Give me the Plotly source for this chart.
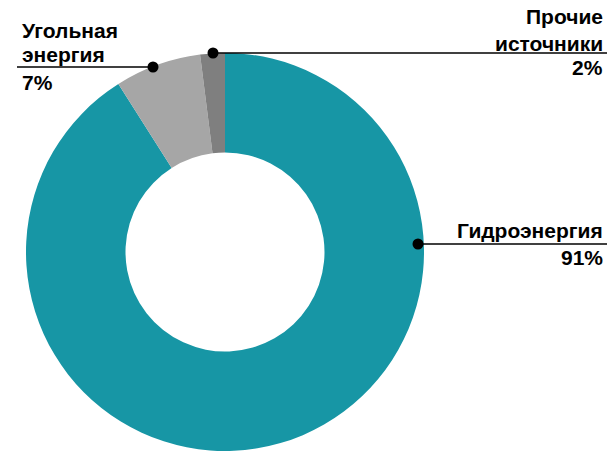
import plotly.graph_objects as go

labels = ["Гидроэнергия", "Угольная энергия", "Прочие источники"]
values = [91, 7, 2]
colors = ["#1796A5", "#A6A6A6", "#7F7F7F"]

W, H = 607, 451
L, R, T, B = 26, 183, 53, 0
PW, PH = W - L - R, H - T - B
FS = 21

def px(x):
    return (x - L) / PW

def py(y):
    return (H - y) / PH

fig = go.Figure(go.Pie(
    labels=labels, values=values, hole=0.5, sort=False, direction="clockwise",
    rotation=0, marker=dict(colors=colors, line=dict(width=0)),
    textinfo="none", hoverinfo="label+percent", showlegend=False,
    domain=dict(x=[0, 1], y=[0, 1]),
))

font = dict(family="Arial, Liberation Sans, sans-serif", size=FS, color="#000000")

# leader lines: (x0, x1, y, dot_x)
leaders = [
    (17, 153, 67, 153),
    (213, 607, 53, 213),
    (418, 607, 244, 418),
]
for x0, x1, y, dx in leaders:
    fig.add_shape(type="line", xref="paper", yref="paper",
                  x0=px(x0), x1=px(x1), y0=py(y), y1=py(y),
                  line=dict(color="#000000", width=1.5))
    r = 5.5
    fig.add_shape(type="circle", xref="paper", yref="paper",
                  x0=px(dx - r), x1=px(dx + r), y0=py(y - r), y1=py(y + r),
                  fillcolor="#000000", line=dict(width=0))

def ann(text, x, baseline, xanchor):
    fig.add_annotation(text="<b>" + text + "</b>", xref="paper", yref="paper",
                       x=px(x), y=py(baseline - 0.33 * FS),
                       xanchor=xanchor, yanchor="middle", align=xanchor,
                       showarrow=False, font=font, borderpad=0)

ann("Угольная", 21, 37.5, "left")
ann("энергия", 21, 61.5, "left")
ann("7%", 21, 89, "left")
ann("Прочие", 604, 23.5, "right")
ann("источники", 604, 50.5, "right")
ann("2%", 604, 74, "right")
ann("Гидроэнергия", 604, 237.7, "right")
ann("91%", 604, 264.3, "right")

fig.update_layout(
    width=W, height=H,
    margin=dict(l=L, r=R, t=T, b=B),
    paper_bgcolor="white", plot_bgcolor="white",
    font=font,
)

fig.write_html("out.html", config={"displayModeBar": False},
               post_script="document.body.style.margin='0';document.body.style.padding='0';")
